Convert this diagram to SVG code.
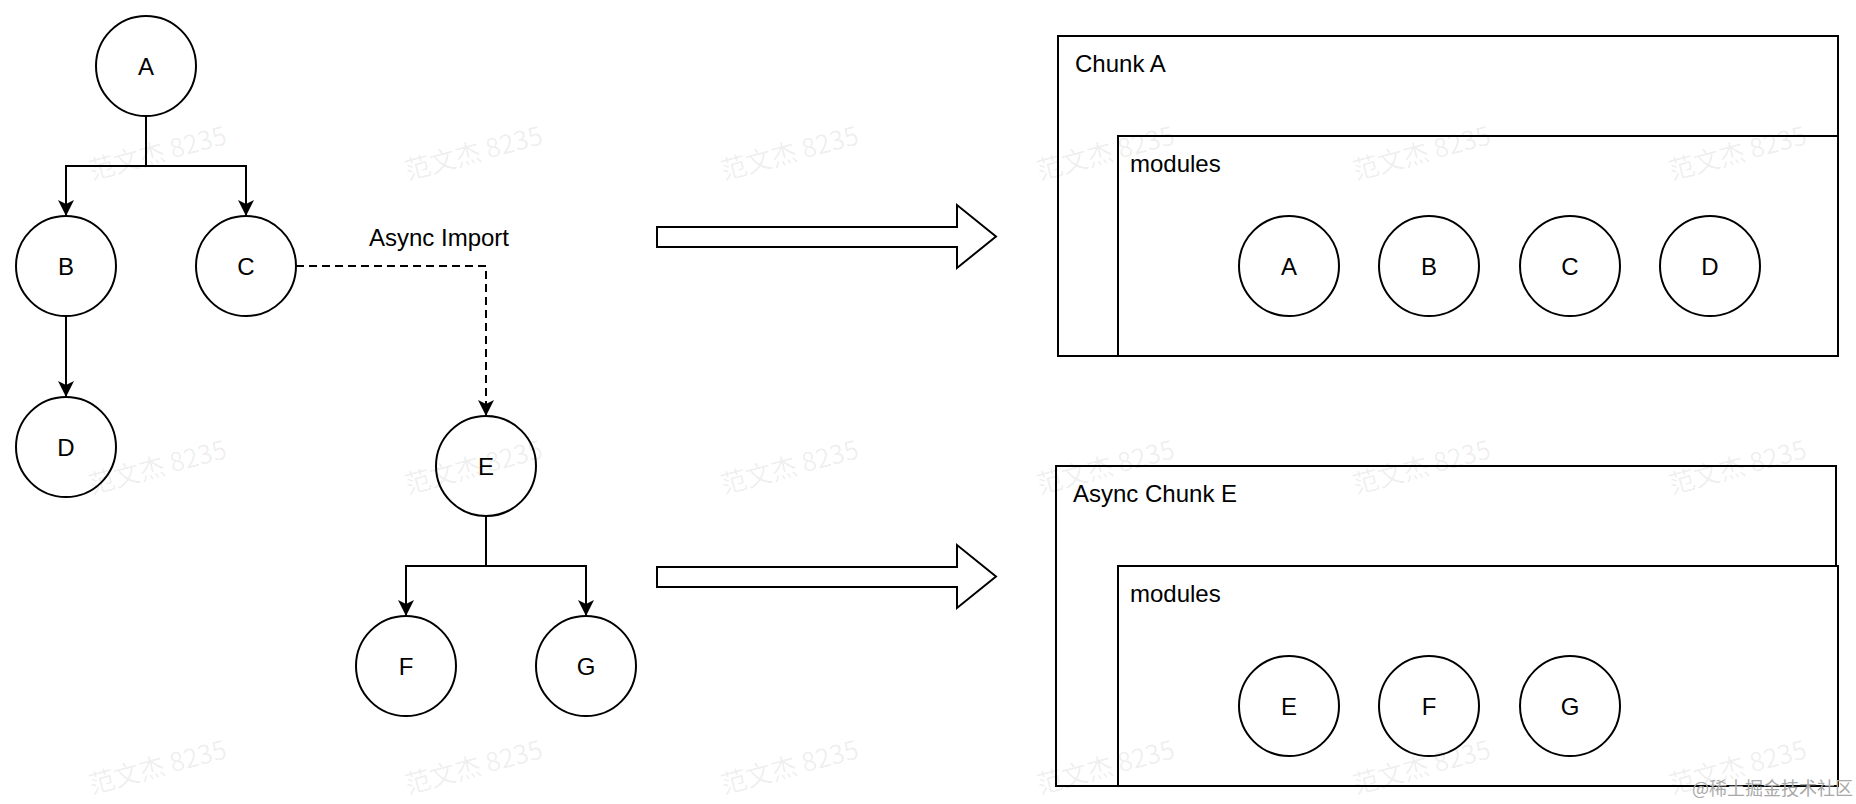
<svg xmlns="http://www.w3.org/2000/svg" width="1856" height="804" viewBox="0 0 1856 804">
  <style>
    .node circle { fill: #ffffff; stroke: #000000; stroke-width: 2; }
    .lbl { font-family: "Liberation Sans", Arial, Helvetica, sans-serif; font-size: 24px; fill: #000000; }
    .mid { text-anchor: middle; }
    .box { fill: #ffffff; stroke: #000000; stroke-width: 2; }
    .edge { fill: none; stroke: #000000; stroke-width: 2; }
    .dash { stroke-dasharray: 8 5; }
    .big { fill: #ffffff; stroke: #000000; stroke-width: 2; stroke-linejoin: miter; }
    .wm { font-family: "Noto Sans CJK SC", "Liberation Sans", sans-serif; font-size: 26px; fill: #000000; fill-opacity: 0.07; text-anchor: middle; }
    .logo { font-family: "Noto Sans CJK SC", sans-serif; font-size: 18px; fill: #a9a9a9; }
  </style>
  <defs>
    <marker id="arr" markerUnits="userSpaceOnUse" markerWidth="16" markerHeight="16" viewBox="0 0 16 16" refX="16" refY="8" orient="auto">
      <path d="M0,0 L16,8 L0,16 L4,8 Z" fill="#000000"/>
    </marker>
  </defs>
  <rect x="0" y="0" width="1856" height="804" fill="#ffffff"/>

  <!-- chunk containers -->
  <g id="chunkA">
    <rect class="box" x="1058" y="36" width="780" height="320"/>
    <text class="lbl" x="1075" y="72">Chunk A</text>
  </g>
  <g id="chunkA-modules">
    <rect class="box" x="1118" y="136" width="720" height="220"/>
    <text class="lbl" x="1130" y="172">modules</text>
  </g>
  <g id="chunkE">
    <rect class="box" x="1056" y="466" width="780" height="320"/>
    <text class="lbl" x="1073" y="502">Async Chunk E</text>
  </g>
  <g id="chunkE-modules">
    <rect class="box" x="1118" y="566" width="720" height="220"/>
    <text class="lbl" x="1130" y="602">modules</text>
  </g>

  <!-- connectors -->
  <g id="connectors">
    <path class="edge" d="M146,116 V166 H66 V216" marker-end="url(#arr)"/>
    <path class="edge" d="M146,166 H246 V216" marker-end="url(#arr)"/>
    <path class="edge" d="M66,316 V397" marker-end="url(#arr)"/>
    <path class="edge dash" d="M296,266 H486 V416" marker-end="url(#arr)"/>
    <text class="lbl mid" x="439" y="246">Async Import</text>
    <path class="edge" d="M486,516 V566 H406 V616" marker-end="url(#arr)"/>
    <path class="edge" d="M486,566 H586 V616" marker-end="url(#arr)"/>
    <path class="big" d="M657,227 L957,227 L957,205 L996,236.5 L957,268 L957,247 L657,247 Z"/>
    <path class="big" d="M657,567 L957,567 L957,545 L996,576.5 L957,608 L957,587 L657,587 Z"/>
  </g>

  <!-- tree nodes -->
  <g id="node-A" class="node"><circle cx="146" cy="66" r="50"/><text class="lbl mid" x="146" y="74.5">A</text></g>
  <g id="node-B" class="node"><circle cx="66" cy="266" r="50"/><text class="lbl mid" x="66" y="274.5">B</text></g>
  <g id="node-C" class="node"><circle cx="246" cy="266" r="50"/><text class="lbl mid" x="246" y="274.5">C</text></g>
  <g id="node-D" class="node"><circle cx="66" cy="447" r="50"/><text class="lbl mid" x="66" y="455.5">D</text></g>
  <g id="node-E" class="node"><circle cx="486" cy="466" r="50"/><text class="lbl mid" x="486" y="474.5">E</text></g>
  <g id="node-F" class="node"><circle cx="406" cy="666" r="50"/><text class="lbl mid" x="406" y="674.5">F</text></g>
  <g id="node-G" class="node"><circle cx="586" cy="666" r="50"/><text class="lbl mid" x="586" y="674.5">G</text></g>

  <!-- module nodes -->
  <g id="mod-A" class="node"><circle cx="1289" cy="266" r="50"/><text class="lbl mid" x="1289" y="274.5">A</text></g>
  <g id="mod-B" class="node"><circle cx="1429" cy="266" r="50"/><text class="lbl mid" x="1429" y="274.5">B</text></g>
  <g id="mod-C" class="node"><circle cx="1570" cy="266" r="50"/><text class="lbl mid" x="1570" y="274.5">C</text></g>
  <g id="mod-D" class="node"><circle cx="1710" cy="266" r="50"/><text class="lbl mid" x="1710" y="274.5">D</text></g>
  <g id="mod-E" class="node"><circle cx="1289" cy="706" r="50"/><text class="lbl mid" x="1289" y="714.5">E</text></g>
  <g id="mod-F" class="node"><circle cx="1429" cy="706" r="50"/><text class="lbl mid" x="1429" y="714.5">F</text></g>
  <g id="mod-G" class="node"><circle cx="1570" cy="706" r="50"/><text class="lbl mid" x="1570" y="714.5">G</text></g>

  <!-- watermarks -->
  <g id="watermarks">
    <text class="wm" transform="translate(160,162) rotate(-15)">范文杰 8235</text>
    <text class="wm" transform="translate(476,162) rotate(-15)">范文杰 8235</text>
    <text class="wm" transform="translate(792,162) rotate(-15)">范文杰 8235</text>
    <text class="wm" transform="translate(1108,162) rotate(-15)">范文杰 8235</text>
    <text class="wm" transform="translate(1424,162) rotate(-15)">范文杰 8235</text>
    <text class="wm" transform="translate(1740,162) rotate(-15)">范文杰 8235</text>
    <text class="wm" transform="translate(160,476) rotate(-15)">范文杰 8235</text>
    <text class="wm" transform="translate(476,476) rotate(-15)">范文杰 8235</text>
    <text class="wm" transform="translate(792,476) rotate(-15)">范文杰 8235</text>
    <text class="wm" transform="translate(1108,476) rotate(-15)">范文杰 8235</text>
    <text class="wm" transform="translate(1424,476) rotate(-15)">范文杰 8235</text>
    <text class="wm" transform="translate(1740,476) rotate(-15)">范文杰 8235</text>
    <text class="wm" transform="translate(160,776) rotate(-15)">范文杰 8235</text>
    <text class="wm" transform="translate(476,776) rotate(-15)">范文杰 8235</text>
    <text class="wm" transform="translate(792,776) rotate(-15)">范文杰 8235</text>
    <text class="wm" transform="translate(1108,776) rotate(-15)">范文杰 8235</text>
    <text class="wm" transform="translate(1424,776) rotate(-15)">范文杰 8235</text>
    <text class="wm" transform="translate(1740,776) rotate(-15)">范文杰 8235</text>
  </g>
  <text class="logo" x="1692" y="795">@稀土掘金技术社区</text>
</svg>
